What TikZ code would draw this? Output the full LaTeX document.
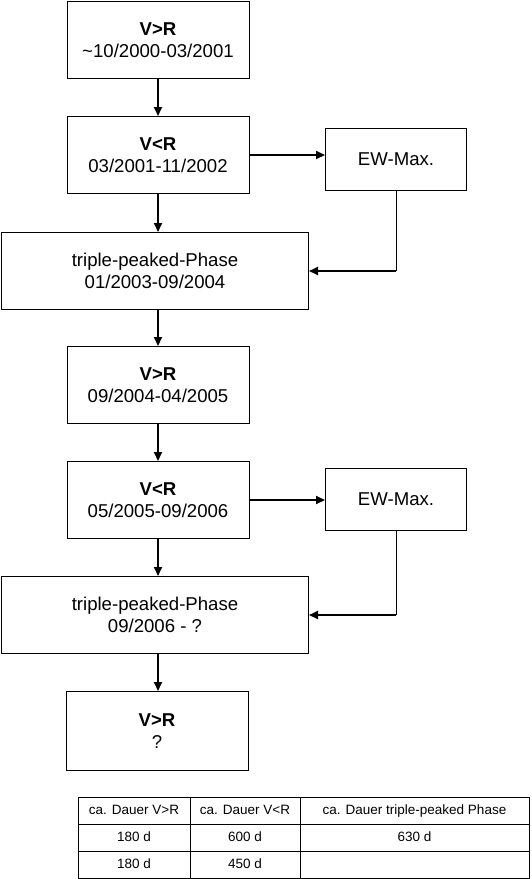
\documentclass[tikz,border=0pt]{standalone}
\usepackage{fontspec}
\setmainfont{Liberation Sans}
\usetikzlibrary{arrows.meta,positioning,calc,matrix}
\tikzset{
  phasebox/.style={
    draw=black,
    line width=1pt,
    fill=white,
    minimum width=182pt,
    minimum height=77pt,
    inner sep=0pt,
    align=center,
    font=\fontsize{18.6}{21.5}\selectfont
  },
  widebox/.style={phasebox,minimum width=307pt},
  ewbox/.style={phasebox,minimum width=141pt,minimum height=62pt},
  flowarrow/.style={-{Triangle[length=9pt,width=8pt]},line width=2pt},
  feedline/.style={line width=1pt},
  tabcell/.style={draw,line width=0.8pt,anchor=center,minimum height=27pt,
    text height=10pt,text depth=3pt,inner sep=0pt,font=\fontsize{13.5}{16}\selectfont}
}

\begin{document}
\begin{tikzpicture}[x=1pt,y=-1pt]
  \useasboundingbox (0,0) rectangle (532,879);

  \node[phasebox] (vr1) at (158, 40) {\textbf{V>R}\\\textasciitilde10/2000-03/2001};
  \node[phasebox] (vr2) at (158,155) {\textbf{V<R}\\03/2001-11/2002};
  \node[ewbox]    (ew1) at (396,159) {EW-Max.};
  \node[widebox]  (tp1) at (155,271) {triple-peaked-Phase\\01/2003-09/2004};
  \node[phasebox] (vr3) at (158,385) {\textbf{V>R}\\09/2004-04/2005};
  \node[phasebox] (vr4) at (158,500) {\textbf{V<R}\\05/2005-09/2006};
  \node[ewbox]    (ew2) at (396,499) {EW-Max.};
  \node[widebox]  (tp2) at (155,615) {triple-peaked-Phase\\09/2006 - ?};
  \node[phasebox,minimum height=79pt] (vr5) at (157,731) {\textbf{V>R}\\?};

  \draw[flowarrow] (vr1.south) -- (vr1.south |- vr2.north);
  \draw[flowarrow] (vr2.south) -- (vr2.south |- tp1.north);
  \draw[flowarrow] (vr2.south |- tp1.south) -- (vr3.north);
  \draw[flowarrow] (vr3.south) -- (vr4.north);
  \draw[flowarrow] (vr4.south) -- (vr4.south |- tp2.north);
  \draw[flowarrow] (vr4.south |- tp2.south) -- (vr4.south |- vr5.north);

  \draw[flowarrow] (vr2.east) -- (vr2.east -| ew1.west);
  \draw[flowarrow] (vr4.east) -- (vr4.east -| ew2.west);

  \coordinate (back1) at (ew1.south |- tp1.east);
  \coordinate (back2) at (ew2.south |- tp2.east);
  \draw[feedline] (ew1.south) -- (back1);
  \draw[flowarrow] (back1) -- (tp1.east);
  \draw[feedline] (ew2.south) -- (back2);
  \draw[flowarrow] (back2) -- (tp2.east);

  \matrix (tab) [matrix of nodes,nodes in empty cells,
    column sep=-0.8pt,row sep=-0.8pt,nodes={tabcell},
    column 1/.style={nodes={minimum width=112pt}},
    column 2/.style={nodes={minimum width=110pt}},
    column 3/.style={nodes={minimum width=229pt}}] at (303.5,837.5) {
    ca. Dauer V>R & ca. Dauer V<R & ca. Dauer triple-peaked Phase \\
    180 d & 600 d & 630 d \\
    180 d & 450 d & \\
  };
\end{tikzpicture}
\end{document}
